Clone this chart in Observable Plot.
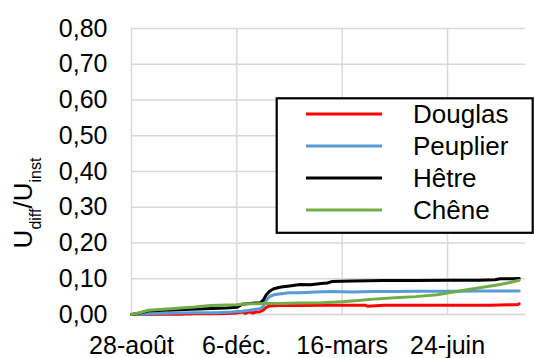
<!DOCTYPE html>
<html>
<head>
<meta charset="utf-8">
<script src="https://cdn.jsdelivr.net/npm/d3@7"></script>
<script src="https://cdn.jsdelivr.net/npm/@observablehq/plot@0.6"></script>
<style>
  html, body { margin: 0; padding: 0; background: #fff; }
  #chart { width: 534px; height: 358px; }
</style>
</head>
<body>
<div id="chart"></div>
<script>
// ---- Data ----
const startDate = "2017-08-28";
const endOffsetDays = 374;

const seriesNames = ["Douglas", "Peuplier", "Hêtre", "Chêne"];
const seriesColors = ["#ff0000", "#5b9bd5", "#000000", "#70ad47"];

const xTickDates = ["2017-08-28", "2017-12-06", "2018-03-16", "2018-06-24"];
const xTickLabels = ["28-août", "6-déc.", "16-mars", "24-juin"];

const yTicks = [0, 0.1, 0.2, 0.3, 0.4, 0.5, 0.6, 0.7, 0.8];
const yTickLabels = ["0,00", "0,10", "0,20", "0,30", "0,40", "0,50", "0,60", "0,70", "0,80"];

// days since 28-août
const douglasDays = [0, 15, 30, 45, 60, 75, 90, 100, 105, 108, 112, 115, 118, 122, 125, 128, 131, 140, 160, 180, 200, 222, 224, 240, 260, 280, 300, 320, 340, 360, 366, 368];
const douglasVals = [0, 0.000, 0.001, 0.001, 0.002, 0.002, 0.003, 0.004, 0.007, 0.003, 0.008, 0.004, 0.007, 0.008, 0.012, 0.020, 0.024, 0.025, 0.025, 0.026, 0.026, 0.026, 0.023, 0.026, 0.026, 0.026, 0.026, 0.026, 0.026, 0.027, 0.027, 0.030];

const peuplierDays = [0, 10, 20, 40, 60, 80, 95, 105, 112, 118, 122, 125, 128, 131, 135, 142, 150, 160, 175, 190, 210, 230, 250, 270, 290, 310, 330, 350, 368];
const peuplierVals = [0, 0.001, 0.002, 0.004, 0.005, 0.005, 0.007, 0.009, 0.012, 0.015, 0.016, 0.022, 0.040, 0.050, 0.055, 0.058, 0.061, 0.061, 0.063, 0.064, 0.063, 0.064, 0.064, 0.065, 0.065, 0.065, 0.066, 0.066, 0.066];

const hetreDays = [0, 8, 16, 30, 50, 70, 90, 100, 105, 112, 118, 122, 125, 128, 131, 135, 142, 150, 160, 170, 180, 186, 190, 210, 240, 270, 300, 330, 345, 350, 360, 368];
const hetreVals = [0, 0.004, 0.010, 0.012, 0.014, 0.016, 0.018, 0.020, 0.029, 0.031, 0.032, 0.032, 0.040, 0.055, 0.065, 0.072, 0.077, 0.080, 0.084, 0.083, 0.087, 0.088, 0.092, 0.094, 0.095, 0.095, 0.096, 0.096, 0.097, 0.100, 0.100, 0.101];

const cheneDays = [0, 8, 16, 40, 60, 75, 100, 110, 120, 130, 140, 160, 180, 200, 215, 230, 250, 270, 290, 300, 310, 320, 335, 350, 360, 368];
const cheneVals = [0, 0.005, 0.012, 0.017, 0.021, 0.025, 0.027, 0.030, 0.030, 0.031, 0.031, 0.032, 0.033, 0.036, 0.039, 0.043, 0.047, 0.050, 0.055, 0.060, 0.065, 0.070, 0.077, 0.084, 0.090, 0.096];

// ---- Build table ----
const parse = d3.utcParse("%Y-%m-%d");
const start = parse(startDate);
const end = d3.utcDay.offset(start, endOffsetDays);
const seriesDays = [douglasDays, peuplierDays, hetreDays, cheneDays];
const seriesVals = [douglasVals, peuplierVals, hetreVals, cheneVals];
const data = seriesNames.flatMap((name, s) =>
  seriesDays[s].map((d, i) => ({series: name, date: d3.utcDay.offset(start, d), value: seriesVals[s][i]}))
);
const xTicks = xTickDates.map(parse);
const xLabelByTime = new Map(xTicks.map((d, i) => [+d, xTickLabels[i]]));
const yLabelByValue = new Map(yTicks.map((v, i) => [v, yTickLabels[i]]));

const grid = {stroke: "#d9d9d9", strokeOpacity: 1, strokeWidth: 1.5};

const chart = Plot.plot({
  width: 534,
  height: 358,
  marginLeft: 131,
  marginRight: 9,
  marginTop: 28,
  marginBottom: 44,
  style: {fontFamily: "'Liberation Sans', Arial, sans-serif", fontSize: "25px", color: "#000", background: "#fff"},
  x: {type: "utc", domain: [start, end]},
  y: {domain: [0, 0.8]},
  color: {domain: seriesNames, range: seriesColors},
  marks: [
    Plot.gridX(xTicks, grid),
    Plot.gridY(yTicks, grid),
    Plot.ruleY([0], grid),
    Plot.axisX(xTicks, {tickSize: 0, tickPadding: 22, tickFormat: d => xLabelByTime.get(+d), label: null, fontSize: 25}),
    Plot.axisY(yTicks, {tickSize: 0, tickPadding: 24, tickFormat: v => yLabelByValue.get(v), label: null, fontSize: 25}),
    Plot.line(data, {x: "date", y: "value", z: "series", stroke: "series", strokeWidth: 3, strokeLinejoin: "round"})
  ]
});

document.getElementById("chart").appendChild(chart);

// ---- Y-axis title with subscripts ----
const svg = d3.select(chart);
const title = svg.append("text")
  .attr("transform", "translate(32,203) rotate(-90)")
  .attr("text-anchor", "middle")
  .attr("font-size", 26)
  .attr("fill", "#000");
title.append("tspan").text("U");
title.append("tspan").attr("font-size", 16).attr("dy", 9).text("diff");
title.append("tspan").attr("font-size", 26).attr("dy", -9).text("/U");
title.append("tspan").attr("font-size", 16).attr("dy", 9).text("inst");

// ---- Legend box ----
const lg = svg.append("g").attr("text-anchor", "start");
lg.append("rect")
  .attr("x", 276.7).attr("y", 98.3).attr("width", 256).attr("height", 134.5)
  .attr("fill", "#fff").attr("stroke", "#000").attr("stroke-width", 2.2);
seriesNames.forEach((name, i) => {
  const yRow = 114 + i * 32;
  lg.append("line")
    .attr("x1", 306).attr("x2", 382).attr("y1", yRow).attr("y2", yRow)
    .attr("stroke", seriesColors[i]).attr("stroke-width", 3);
  lg.append("text")
    .attr("x", 413).attr("y", yRow + 9.3)
    .attr("text-anchor", "start")
    .attr("font-size", 26).attr("fill", "#000")
    .text(name);
});
</script>
</body>
</html>
